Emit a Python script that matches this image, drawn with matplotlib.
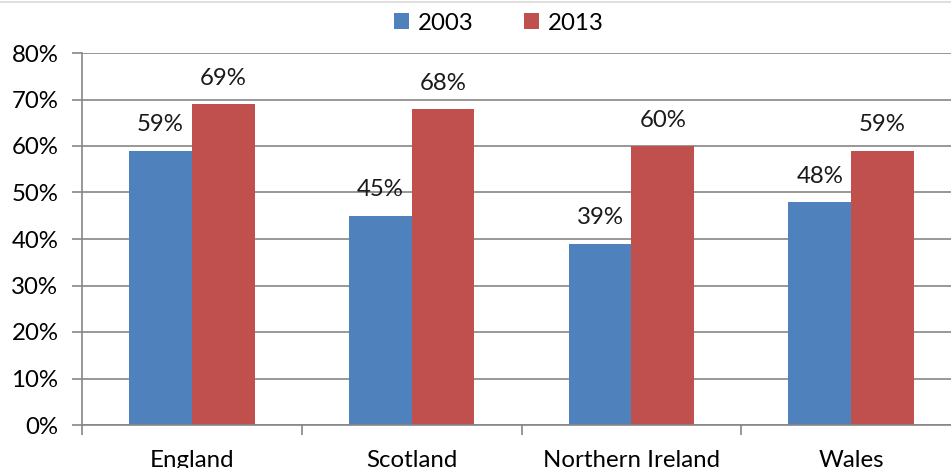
import matplotlib
matplotlib.use("Agg")
import matplotlib.pyplot as plt
import numpy as np
from matplotlib.lines import Line2D

regions = ["England", "Scotland", "Northern Ireland", "Wales"]
years = ["2003", "2013"]
vals_2003 = [59, 45, 39, 48]
vals_2013 = [69, 68, 60, 59]

plt.rcParams["font.family"] = ["Lato", "DejaVu Sans"]

blue = "#4F81BD"
red = "#C0504D"
grid = "#868686"
fs = 17.3

fig = plt.figure(figsize=(9.51, 4.68), dpi=100)
ax = fig.add_axes([82 / 951, 1 - 425 / 468, 879 / 951, 372 / 468])

x = np.arange(len(regions))
w = 0.286
b1 = ax.bar(x - w / 2, vals_2003, w, color=blue, label=years[0])
b2 = ax.bar(x + w / 2, vals_2013, w, color=red, label=years[1])

# value labels above each bar
for bars, vals in [(b1, vals_2003), (b2, vals_2013)]:
    for rect, v in zip(bars, vals):
        ax.annotate(f"{v}%", (rect.get_x() + rect.get_width() / 2, v),
                    xytext=(0, 11), textcoords="offset points",
                    ha="center", va="bottom", fontsize=fs, color="#1a1a1a")

ax.set_xlim(-0.5, len(regions) - 0.5)
ax.set_ylim(0, 80)
ax.set_yticks(range(0, 81, 10))
ax.set_yticklabels([f"{t}%" for t in range(0, 81, 10)], fontsize=fs)
ax.yaxis.grid(True, color=grid, linewidth=1.2)
ax.set_axisbelow(True)

ax.set_xticks(x)
ax.set_xticklabels(regions, fontsize=fs)
ax.set_xticks(np.arange(-0.5, len(regions), 1), minor=True)
ax.tick_params(axis="x", which="major", length=0, pad=18)
ax.tick_params(axis="x", which="minor", length=7, color=grid, width=1.2, direction="out")
ax.tick_params(axis="y", length=7, color=grid, width=1.2, pad=10)

for s in ["top", "right"]:
    ax.spines[s].set_visible(False)
for s in ["left", "bottom"]:
    ax.spines[s].set_color(grid)
    ax.spines[s].set_linewidth(1.2)

ax.legend(loc="center", bbox_to_anchor=(0.474, 1 + 30 / 372), ncol=2,
          frameon=False, fontsize=fs, handlelength=0.65, handleheight=0.65,
          handletextpad=0.35, columnspacing=2.1, borderaxespad=0)

# light border along the top of the chart area
fig.add_artist(Line2D([0, 1], [1 - 2 / 468, 1 - 2 / 468], color="#d9d9d9", linewidth=1.2))

fig.savefig("out.png", dpi=100)
